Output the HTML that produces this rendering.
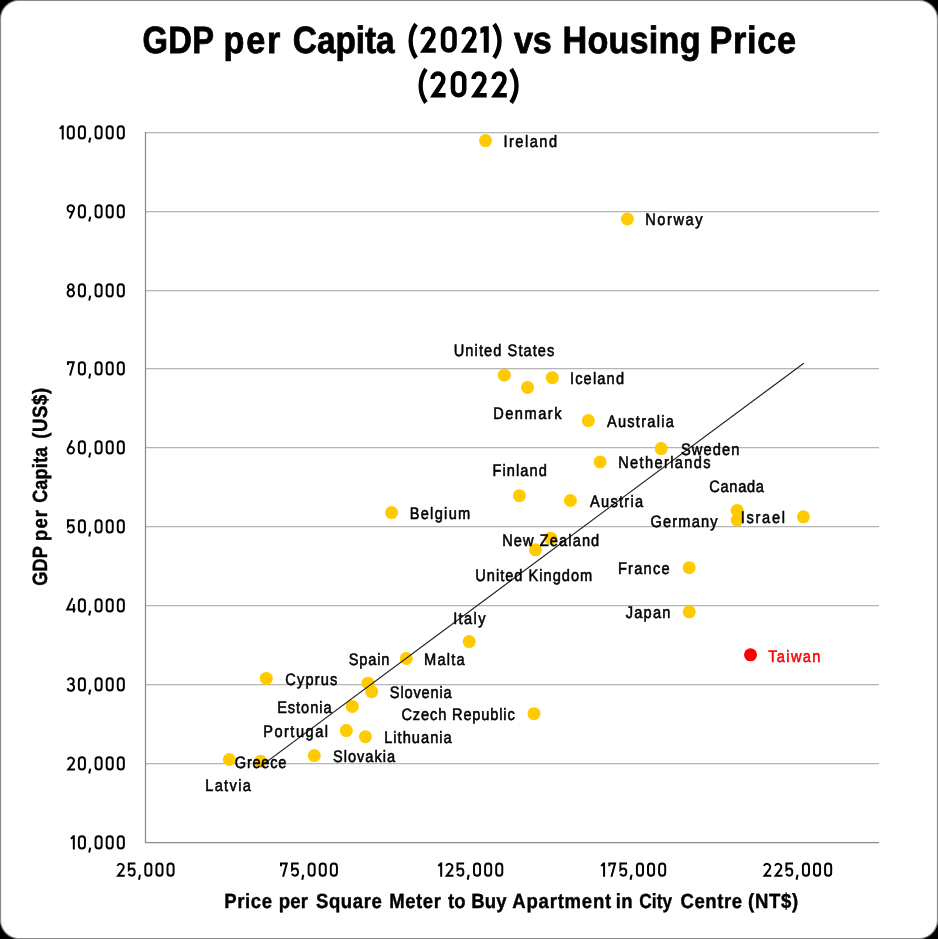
<!DOCTYPE html>
<html><head><meta charset="utf-8"><style>
html,body{margin:0;padding:0;background:#000;}
body{width:938px;height:939px;overflow:hidden;}
svg{display:block;will-change:transform;text-rendering:geometricPrecision;font-family:"Liberation Sans",sans-serif;}
</style></head><body>
<svg width="938" height="939" viewBox="0 0 938 939">
<rect x="0.5" y="0.5" width="937" height="938" rx="18.5" ry="18.5" fill="#fff" stroke="#8a8a8a" stroke-width="1.2"/>
<g stroke="#b4b4b4" stroke-width="1.25"><line x1="145.5" x2="879.0" y1="132.5" y2="132.5"/><line x1="145.5" x2="879.0" y1="211.5" y2="211.5"/><line x1="145.5" x2="879.0" y1="290.5" y2="290.5"/><line x1="145.5" x2="879.0" y1="368.5" y2="368.5"/><line x1="145.5" x2="879.0" y1="447.5" y2="447.5"/><line x1="145.5" x2="879.0" y1="526.5" y2="526.5"/><line x1="145.5" x2="879.0" y1="605.5" y2="605.5"/><line x1="145.5" x2="879.0" y1="684.5" y2="684.5"/><line x1="145.5" x2="879.0" y1="763.5" y2="763.5"/></g>
<path d="M145.5,132 V842.5 H879" fill="none" stroke="#8a8a8a" stroke-width="1.25" stroke-linejoin="miter"/>
<g fill="#ffcb00"><circle cx="485.5" cy="140.6" r="6.5"/><circle cx="627.4" cy="219.0" r="6.5"/><circle cx="504.3" cy="375.2" r="6.5"/><circle cx="527.6" cy="387.4" r="6.5"/><circle cx="552.3" cy="377.7" r="6.5"/><circle cx="588.3" cy="420.6" r="6.5"/><circle cx="661.2" cy="448.6" r="6.5"/><circle cx="600.1" cy="461.9" r="6.5"/><circle cx="737.2" cy="510.4" r="6.5"/><circle cx="737.2" cy="520.1" r="6.5"/><circle cx="803.4" cy="516.8" r="6.5"/><circle cx="519.4" cy="495.7" r="6.5"/><circle cx="570.4" cy="500.5" r="6.5"/><circle cx="391.6" cy="512.6" r="6.5"/><circle cx="550.7" cy="538.2" r="6.5"/><circle cx="535.5" cy="549.8" r="6.5"/><circle cx="689.2" cy="567.7" r="6.5"/><circle cx="689.2" cy="611.8" r="6.5"/><circle cx="469.2" cy="641.6" r="6.5"/><circle cx="406.3" cy="658.5" r="6.5"/><circle cx="266.3" cy="678.4" r="6.5"/><circle cx="368.0" cy="683.2" r="6.5"/><circle cx="371.7" cy="691.7" r="6.5"/><circle cx="352.3" cy="706.4" r="6.5"/><circle cx="534.0" cy="713.7" r="6.5"/><circle cx="346.3" cy="730.6" r="6.5"/><circle cx="365.4" cy="736.7" r="6.5"/><circle cx="314.3" cy="755.6" r="6.5"/><circle cx="229.3" cy="759.5" r="6.5"/><circle cx="260.5" cy="761.3" r="6.5"/></g>
<circle cx="750.5" cy="654.8" r="6.5" fill="#ff0000"/>
<line x1="260.5" y1="766.4" x2="803.8" y2="363.2" stroke="#222" stroke-width="1.1"/>
<g font-family="Liberation Sans, sans-serif">
<text transform="translate(503.43,0) scale(0.88,1)" x="0" y="147.20" font-size="16.6" fill="#000" stroke="#000" stroke-width="0.55" textLength="60.92" lengthAdjust="spacing">Ireland</text>
<text transform="translate(645.13,0) scale(0.88,1)" x="0" y="225.10" font-size="16.6" fill="#000" stroke="#000" stroke-width="0.55" textLength="65.22" lengthAdjust="spacing">Norway</text>
<text transform="translate(453.76,0) scale(0.88,1)" x="0" y="356.30" font-size="16.6" fill="#000" stroke="#000" stroke-width="0.55" textLength="114.34" lengthAdjust="spacing">United States</text>
<text transform="translate(569.93,0) scale(0.88,1)" x="0" y="384.00" font-size="16.6" fill="#000" stroke="#000" stroke-width="0.55" textLength="61.49" lengthAdjust="spacing">Iceland</text>
<text transform="translate(493.13,0) scale(0.88,1)" x="0" y="419.20" font-size="16.6" fill="#000" stroke="#000" stroke-width="0.55" textLength="77.69" lengthAdjust="spacing">Denmark</text>
<text transform="translate(606.88,0) scale(0.88,1)" x="0" y="427.00" font-size="16.6" fill="#000" stroke="#000" stroke-width="0.55" textLength="76.09" lengthAdjust="spacing">Australia</text>
<text transform="translate(681.02,0) scale(0.88,1)" x="0" y="454.90" font-size="16.6" fill="#000" stroke="#000" stroke-width="0.55" textLength="66.28" lengthAdjust="spacing">Sweden</text>
<text transform="translate(618.23,0) scale(0.88,1)" x="0" y="468.00" font-size="16.6" fill="#000" stroke="#000" stroke-width="0.55" textLength="104.83" lengthAdjust="spacing">Netherlands</text>
<text transform="translate(709.29,0) scale(0.88,1)" x="0" y="492.40" font-size="16.6" fill="#000" stroke="#000" stroke-width="0.55" textLength="62.09" lengthAdjust="spacing">Canada</text>
<text transform="translate(589.98,0) scale(0.88,1)" x="0" y="507.00" font-size="16.6" fill="#000" stroke="#000" stroke-width="0.55" textLength="60.41" lengthAdjust="spacing">Austria</text>
<text transform="translate(650.59,0) scale(0.88,1)" x="0" y="527.00" font-size="16.6" fill="#000" stroke="#000" stroke-width="0.55" textLength="76.06" lengthAdjust="spacing">Germany</text>
<text transform="translate(740.73,0) scale(0.88,1)" x="0" y="522.90" font-size="16.6" fill="#000" stroke="#000" stroke-width="0.55" textLength="50.29" lengthAdjust="spacing">Israel</text>
<text transform="translate(492.43,0) scale(0.88,1)" x="0" y="476.30" font-size="16.6" fill="#000" stroke="#000" stroke-width="0.55" textLength="61.83" lengthAdjust="spacing">Finland</text>
<text transform="translate(409.63,0) scale(0.88,1)" x="0" y="519.30" font-size="16.6" fill="#000" stroke="#000" stroke-width="0.55" textLength="68.92" lengthAdjust="spacing">Belgium</text>
<text transform="translate(502.13,0) scale(0.88,1)" x="0" y="545.90" font-size="16.6" fill="#000" stroke="#000" stroke-width="0.55" textLength="110.35" lengthAdjust="spacing">New Zealand</text>
<text transform="translate(475.26,0) scale(0.88,1)" x="0" y="581.10" font-size="16.6" fill="#000" stroke="#000" stroke-width="0.55" textLength="132.86" lengthAdjust="spacing">United Kingdom</text>
<text transform="translate(617.93,0) scale(0.88,1)" x="0" y="574.10" font-size="16.6" fill="#000" stroke="#000" stroke-width="0.55" textLength="58.73" lengthAdjust="spacing">France</text>
<text transform="translate(625.85,0) scale(0.88,1)" x="0" y="617.90" font-size="16.6" fill="#000" stroke="#000" stroke-width="0.55" textLength="50.57" lengthAdjust="spacing">Japan</text>
<text transform="translate(453.13,0) scale(0.88,1)" x="0" y="623.60" font-size="16.6" fill="#000" stroke="#000" stroke-width="0.55" textLength="36.81" lengthAdjust="spacing">Italy</text>
<text transform="translate(348.72,0) scale(0.88,1)" x="0" y="665.10" font-size="16.6" fill="#000" stroke="#000" stroke-width="0.55" textLength="46.17" lengthAdjust="spacing">Spain</text>
<text transform="translate(424.03,0) scale(0.88,1)" x="0" y="665.10" font-size="16.6" fill="#000" stroke="#000" stroke-width="0.55" textLength="46.13" lengthAdjust="spacing">Malta</text>
<text transform="translate(285.29,0) scale(0.88,1)" x="0" y="684.50" font-size="16.6" fill="#000" stroke="#000" stroke-width="0.55" textLength="58.97" lengthAdjust="spacing">Cyprus</text>
<text transform="translate(389.82,0) scale(0.88,1)" x="0" y="698.40" font-size="16.6" fill="#000" stroke="#000" stroke-width="0.55" textLength="70.24" lengthAdjust="spacing">Slovenia</text>
<text transform="translate(277.13,0) scale(0.88,1)" x="0" y="712.80" font-size="16.6" fill="#000" stroke="#000" stroke-width="0.55" textLength="61.93" lengthAdjust="spacing">Estonia</text>
<text transform="translate(401.49,0) scale(0.88,1)" x="0" y="720.40" font-size="16.6" fill="#000" stroke="#000" stroke-width="0.55" textLength="128.71" lengthAdjust="spacing">Czech Republic</text>
<text transform="translate(263.13,0) scale(0.88,1)" x="0" y="737.30" font-size="16.6" fill="#000" stroke="#000" stroke-width="0.55" textLength="73.81" lengthAdjust="spacing">Portugal</text>
<text transform="translate(384.13,0) scale(0.88,1)" x="0" y="743.10" font-size="16.6" fill="#000" stroke="#000" stroke-width="0.55" textLength="76.82" lengthAdjust="spacing">Lithuania</text>
<text transform="translate(332.92,0) scale(0.88,1)" x="0" y="762.30" font-size="16.6" fill="#000" stroke="#000" stroke-width="0.55" textLength="70.70" lengthAdjust="spacing">Slovakia</text>
<text transform="translate(234.79,0) scale(0.88,1)" x="0" y="767.80" font-size="16.6" fill="#000" stroke="#000" stroke-width="0.55" textLength="58.67" lengthAdjust="spacing">Greece</text>
<text transform="translate(205.23,0) scale(0.88,1)" x="0" y="791.30" font-size="16.6" fill="#000" stroke="#000" stroke-width="0.55" textLength="51.82" lengthAdjust="spacing">Latvia</text>
<text transform="translate(768.25,0) scale(0.88,1)" x="0" y="661.70" font-size="16.6" fill="#ff0000" stroke="#ff0000" stroke-width="0.55" textLength="59.20" lengthAdjust="spacing">Taiwan</text>
<text transform="translate(142.48,0) scale(0.86,1)" x="0" y="53.00" font-size="38.0" font-weight="bold" fill="#000" stroke="#000" stroke-width="0.8" textLength="83.35" lengthAdjust="spacing">GDP</text>
<text transform="translate(223.56,0) scale(0.9,1)" x="0" y="53.00" font-size="38.0" font-weight="bold" fill="#000" stroke="#000" stroke-width="0.8" textLength="63.02" lengthAdjust="spacing">per</text>
<text transform="translate(292.85,0) scale(0.88,1)" x="0" y="53.00" font-size="38.0" font-weight="bold" fill="#000" stroke="#000" stroke-width="0.8" textLength="115.61" lengthAdjust="spacing">Capita</text>
<text transform="translate(514.10,0) scale(0.9,1)" x="0" y="53.00" font-size="38.0" font-weight="bold" fill="#000" stroke="#000" stroke-width="0.8" textLength="41.98" lengthAdjust="spacing">vs</text>
<text transform="translate(562.46,0) scale(0.9,1)" x="0" y="53.00" font-size="38.0" font-weight="bold" fill="#000" stroke="#000" stroke-width="0.8" textLength="153.47" lengthAdjust="spacing">Housing</text>
<text transform="translate(709.56,0) scale(0.9,1)" x="0" y="53.00" font-size="38.0" font-weight="bold" fill="#000" stroke="#000" stroke-width="0.8" textLength="96.10" lengthAdjust="spacing">Price</text>
<text transform="translate(224.34,0) scale(0.9,1)" x="0" y="907.90" font-size="20.6" font-weight="bold" fill="#000" stroke="#000" stroke-width="0.4" textLength="53.02" lengthAdjust="spacing">Price</text>
<text transform="translate(278.74,0) scale(0.9,1)" x="0" y="907.90" font-size="20.6" font-weight="bold" fill="#000" stroke="#000" stroke-width="0.4" textLength="32.36" lengthAdjust="spacing">per</text>
<text transform="translate(315.91,0) scale(0.9,1)" x="0" y="907.90" font-size="20.6" font-weight="bold" fill="#000" stroke="#000" stroke-width="0.4" textLength="73.28" lengthAdjust="spacing">Square</text>
<text transform="translate(389.24,0) scale(0.9,1)" x="0" y="907.90" font-size="20.6" font-weight="bold" fill="#000" stroke="#000" stroke-width="0.4" textLength="57.36" lengthAdjust="spacing">Meter</text>
<text transform="translate(448.00,0) scale(0.9,1)" x="0" y="907.90" font-size="20.6" font-weight="bold" fill="#000" stroke="#000" stroke-width="0.4" textLength="19.67" lengthAdjust="spacing">to</text>
<text transform="translate(471.14,0) scale(0.9,1)" x="0" y="907.90" font-size="20.6" font-weight="bold" fill="#000" stroke="#000" stroke-width="0.4" textLength="39.38" lengthAdjust="spacing">Buy</text>
<text transform="translate(512.31,0) scale(0.9,1)" x="0" y="907.90" font-size="20.6" font-weight="bold" fill="#000" stroke="#000" stroke-width="0.4" textLength="109.87" lengthAdjust="spacing">Apartment</text>
<text transform="translate(615.84,0) scale(0.9,1)" x="0" y="907.90" font-size="20.6" font-weight="bold" fill="#000" stroke="#000" stroke-width="0.4" textLength="18.51" lengthAdjust="spacing">in</text>
<text transform="translate(639.36,0) scale(0.84,1)" x="0" y="907.90" font-size="20.6" font-weight="bold" fill="#000" stroke="#000" stroke-width="0.4" textLength="38.97" lengthAdjust="spacing">City</text>
<text transform="translate(680.42,0) scale(0.9,1)" x="0" y="907.90" font-size="20.6" font-weight="bold" fill="#000" stroke="#000" stroke-width="0.4" textLength="68.60" lengthAdjust="spacing">Centre</text>
<text transform="translate(748.03,0) scale(0.9,1)" x="0" y="907.90" font-size="20.6" font-weight="bold" fill="#000" stroke="#000" stroke-width="0.4" textLength="55.71" lengthAdjust="spacing">(NT$)</text>
<text transform="translate(47.2,0) rotate(-90) translate(-585.67,0) scale(0.88,1)" x="0" y="0" font-size="20.6" font-weight="bold" stroke="#000" stroke-width="0.4" textLength="44.94" lengthAdjust="spacing">GDP</text>
<text transform="translate(47.2,0) rotate(-90) translate(-540.96,0) scale(0.9,1)" x="0" y="0" font-size="20.6" font-weight="bold" stroke="#000" stroke-width="0.4" textLength="34.47" lengthAdjust="spacing">per</text>
<text transform="translate(47.2,0) rotate(-90) translate(-502.87,0) scale(0.88,1)" x="0" y="0" font-size="20.6" font-weight="bold" stroke="#000" stroke-width="0.4" textLength="63.69" lengthAdjust="spacing">Capita</text>
<text transform="translate(47.2,0) rotate(-90) translate(-438.77,0) scale(0.9,1)" x="0" y="0" font-size="20.6" font-weight="bold" stroke="#000" stroke-width="0.4" textLength="56.60" lengthAdjust="spacing">(US$)</text>
</g>
<g><path transform="translate(408.50,52.80) scale(0.939,1)" d="M8.0,-28.6 C3.2,-22.0 2.3,-16.0 2.3,-11.75 C2.3,-7.5 3.2,-1.5 8.0,5.1" fill="none" stroke="#000" stroke-width="4.6"/><path transform="translate(420.30,52.80) scale(0.987,1)" d="M2.3,-18.6 A5.5,5.5 0 0 1 13.3,-18.6 C13.3,-16.2 12.4,-14.5 10.9,-12.7 L3.9,-2.3 H15.6" fill="none" stroke="#000" stroke-width="4.6"/><path transform="translate(440.80,52.80) scale(0.994,1)" d="M2.3,-18.55 A5.75,5.75 0 0 1 13.8,-18.55 V-8.05 A5.75,5.75 0 0 1 2.3,-8.05 Z" fill="none" stroke="#000" stroke-width="4.6"/><path transform="translate(461.30,52.80) scale(0.987,1)" d="M2.3,-18.6 A5.5,5.5 0 0 1 13.3,-18.6 C13.3,-16.2 12.4,-14.5 10.9,-12.7 L3.9,-2.3 H15.6" fill="none" stroke="#000" stroke-width="4.6"/><path transform="translate(480.40,52.80) scale(0.933,1)" d="M3.6,-26.6 H9.0 V0 H3.6 V-20.6 L0,-19.2 V-24.9 Z" fill="#000"/><path transform="translate(492.30,52.80) scale(0.949,1)" d="M1.9,-28.6 C6.7,-22.0 7.6,-16.0 7.6,-11.75 C7.6,-7.5 6.7,-1.5 1.9,5.1" fill="none" stroke="#000" stroke-width="4.6"/><path transform="translate(418.50,97.60) scale(0.929,1)" d="M8.0,-28.6 C3.2,-22.0 2.3,-16.0 2.3,-11.75 C2.3,-7.5 3.2,-1.5 8.0,5.1" fill="none" stroke="#000" stroke-width="4.6"/><path transform="translate(430.30,97.60) scale(0.981,1)" d="M2.3,-18.6 A5.5,5.5 0 0 1 13.3,-18.6 C13.3,-16.2 12.4,-14.5 10.9,-12.7 L3.9,-2.3 H15.6" fill="none" stroke="#000" stroke-width="4.6"/><path transform="translate(450.70,97.60) scale(0.981,1)" d="M2.3,-18.55 A5.75,5.75 0 0 1 13.8,-18.55 V-8.05 A5.75,5.75 0 0 1 2.3,-8.05 Z" fill="none" stroke="#000" stroke-width="4.6"/><path transform="translate(471.30,97.60) scale(0.987,1)" d="M2.3,-18.6 A5.5,5.5 0 0 1 13.3,-18.6 C13.3,-16.2 12.4,-14.5 10.9,-12.7 L3.9,-2.3 H15.6" fill="none" stroke="#000" stroke-width="4.6"/><path transform="translate(491.40,97.60) scale(0.987,1)" d="M2.3,-18.6 A5.5,5.5 0 0 1 13.3,-18.6 C13.3,-16.2 12.4,-14.5 10.9,-12.7 L3.9,-2.3 H15.6" fill="none" stroke="#000" stroke-width="4.6"/><path transform="translate(509.30,97.60) scale(0.949,1)" d="M1.9,-28.6 C6.7,-22.0 7.6,-16.0 7.6,-11.75 C7.6,-7.5 6.7,-1.5 1.9,5.1" fill="none" stroke="#000" stroke-width="4.6"/><path transform="translate(70.35,849.50) scale(1.023,1)" d="M3.4,-14.3 V0 M3.1,-13.4 L0.6,-10.6" fill="none" stroke="#000" stroke-width="1.95"/><path transform="translate(77.85,849.50) scale(1.000,1)" d="M1,-10.25 A3.05,3.05 0 0 1 7.1,-10.25 V-4.05 A3.05,3.05 0 0 1 1,-4.05 Z" fill="none" stroke="#000" stroke-width="1.95"/><path transform="translate(88.20,849.50) scale(1.000,1)" d="M2.05,-1.9 L1.0,3.0" fill="none" stroke="#000" stroke-width="1.95"/><path transform="translate(94.55,849.50) scale(1.000,1)" d="M1,-10.25 A3.05,3.05 0 0 1 7.1,-10.25 V-4.05 A3.05,3.05 0 0 1 1,-4.05 Z" fill="none" stroke="#000" stroke-width="1.95"/><path transform="translate(105.65,849.50) scale(1.000,1)" d="M1,-10.25 A3.05,3.05 0 0 1 7.1,-10.25 V-4.05 A3.05,3.05 0 0 1 1,-4.05 Z" fill="none" stroke="#000" stroke-width="1.95"/><path transform="translate(116.75,849.50) scale(1.000,1)" d="M1,-10.25 A3.05,3.05 0 0 1 7.1,-10.25 V-4.05 A3.05,3.05 0 0 1 1,-4.05 Z" fill="none" stroke="#000" stroke-width="1.95"/><path transform="translate(66.55,770.50) scale(1.000,1)" d="M1.15,-10.9 A3.3,3.3 0 0 1 7.45,-10.0 C7.45,-8.7 6.9,-7.7 6.0,-6.6 L1.7,-1.0 H8.5" fill="none" stroke="#000" stroke-width="1.95"/><path transform="translate(77.85,770.50) scale(1.000,1)" d="M1,-10.25 A3.05,3.05 0 0 1 7.1,-10.25 V-4.05 A3.05,3.05 0 0 1 1,-4.05 Z" fill="none" stroke="#000" stroke-width="1.95"/><path transform="translate(88.20,770.50) scale(1.000,1)" d="M2.05,-1.9 L1.0,3.0" fill="none" stroke="#000" stroke-width="1.95"/><path transform="translate(94.55,770.50) scale(1.000,1)" d="M1,-10.25 A3.05,3.05 0 0 1 7.1,-10.25 V-4.05 A3.05,3.05 0 0 1 1,-4.05 Z" fill="none" stroke="#000" stroke-width="1.95"/><path transform="translate(105.65,770.50) scale(1.000,1)" d="M1,-10.25 A3.05,3.05 0 0 1 7.1,-10.25 V-4.05 A3.05,3.05 0 0 1 1,-4.05 Z" fill="none" stroke="#000" stroke-width="1.95"/><path transform="translate(116.75,770.50) scale(1.000,1)" d="M1,-10.25 A3.05,3.05 0 0 1 7.1,-10.25 V-4.05 A3.05,3.05 0 0 1 1,-4.05 Z" fill="none" stroke="#000" stroke-width="1.95"/><path transform="translate(66.55,691.50) scale(1.000,1)" d="M1.1,-11.2 A3.15,3.1 0 0 1 7.2,-10.2 A3.0,3.0 0 0 1 4.2,-7.4 H3.2 M4.2,-7.4 A3.25,3.2 0 0 1 7.5,-4.2 A3.3,3.25 0 0 1 1.0,-3.2" fill="none" stroke="#000" stroke-width="1.95"/><path transform="translate(77.85,691.50) scale(1.000,1)" d="M1,-10.25 A3.05,3.05 0 0 1 7.1,-10.25 V-4.05 A3.05,3.05 0 0 1 1,-4.05 Z" fill="none" stroke="#000" stroke-width="1.95"/><path transform="translate(88.20,691.50) scale(1.000,1)" d="M2.05,-1.9 L1.0,3.0" fill="none" stroke="#000" stroke-width="1.95"/><path transform="translate(94.55,691.50) scale(1.000,1)" d="M1,-10.25 A3.05,3.05 0 0 1 7.1,-10.25 V-4.05 A3.05,3.05 0 0 1 1,-4.05 Z" fill="none" stroke="#000" stroke-width="1.95"/><path transform="translate(105.65,691.50) scale(1.000,1)" d="M1,-10.25 A3.05,3.05 0 0 1 7.1,-10.25 V-4.05 A3.05,3.05 0 0 1 1,-4.05 Z" fill="none" stroke="#000" stroke-width="1.95"/><path transform="translate(116.75,691.50) scale(1.000,1)" d="M1,-10.25 A3.05,3.05 0 0 1 7.1,-10.25 V-4.05 A3.05,3.05 0 0 1 1,-4.05 Z" fill="none" stroke="#000" stroke-width="1.95"/><path transform="translate(66.15,612.50) scale(1.000,1)" d="M6.4,-14.3 L1.0,-3.0 H9.3 M7.7,-8.6 V0" fill="none" stroke="#000" stroke-width="1.95"/><path transform="translate(77.85,612.50) scale(1.000,1)" d="M1,-10.25 A3.05,3.05 0 0 1 7.1,-10.25 V-4.05 A3.05,3.05 0 0 1 1,-4.05 Z" fill="none" stroke="#000" stroke-width="1.95"/><path transform="translate(88.20,612.50) scale(1.000,1)" d="M2.05,-1.9 L1.0,3.0" fill="none" stroke="#000" stroke-width="1.95"/><path transform="translate(94.55,612.50) scale(1.000,1)" d="M1,-10.25 A3.05,3.05 0 0 1 7.1,-10.25 V-4.05 A3.05,3.05 0 0 1 1,-4.05 Z" fill="none" stroke="#000" stroke-width="1.95"/><path transform="translate(105.65,612.50) scale(1.000,1)" d="M1,-10.25 A3.05,3.05 0 0 1 7.1,-10.25 V-4.05 A3.05,3.05 0 0 1 1,-4.05 Z" fill="none" stroke="#000" stroke-width="1.95"/><path transform="translate(116.75,612.50) scale(1.000,1)" d="M1,-10.25 A3.05,3.05 0 0 1 7.1,-10.25 V-4.05 A3.05,3.05 0 0 1 1,-4.05 Z" fill="none" stroke="#000" stroke-width="1.95"/><path transform="translate(66.85,533.50) scale(1.000,1)" d="M7.7,-13.3 H1.1 V-6.9 C1.9,-7.8 3.0,-8.3 4.3,-8.3 C6.3,-8.3 7.0,-6.6 7.0,-4.65 C7.0,-2.5 5.9,-1.0 4.0,-1.0 C2.6,-1.0 1.5,-1.7 0.9,-2.9" fill="none" stroke="#000" stroke-width="1.95"/><path transform="translate(77.85,533.50) scale(1.000,1)" d="M1,-10.25 A3.05,3.05 0 0 1 7.1,-10.25 V-4.05 A3.05,3.05 0 0 1 1,-4.05 Z" fill="none" stroke="#000" stroke-width="1.95"/><path transform="translate(88.20,533.50) scale(1.000,1)" d="M2.05,-1.9 L1.0,3.0" fill="none" stroke="#000" stroke-width="1.95"/><path transform="translate(94.55,533.50) scale(1.000,1)" d="M1,-10.25 A3.05,3.05 0 0 1 7.1,-10.25 V-4.05 A3.05,3.05 0 0 1 1,-4.05 Z" fill="none" stroke="#000" stroke-width="1.95"/><path transform="translate(105.65,533.50) scale(1.000,1)" d="M1,-10.25 A3.05,3.05 0 0 1 7.1,-10.25 V-4.05 A3.05,3.05 0 0 1 1,-4.05 Z" fill="none" stroke="#000" stroke-width="1.95"/><path transform="translate(116.75,533.50) scale(1.000,1)" d="M1,-10.25 A3.05,3.05 0 0 1 7.1,-10.25 V-4.05 A3.05,3.05 0 0 1 1,-4.05 Z" fill="none" stroke="#000" stroke-width="1.95"/><path transform="translate(66.55,454.50) scale(1.000,1)" d="M5.6,-14.3 L1.3,-5.6 M4.25,-7.65 A3.25,3.35 0 1 1 4.24,-7.65 Z" fill="none" stroke="#000" stroke-width="1.95"/><path transform="translate(77.85,454.50) scale(1.000,1)" d="M1,-10.25 A3.05,3.05 0 0 1 7.1,-10.25 V-4.05 A3.05,3.05 0 0 1 1,-4.05 Z" fill="none" stroke="#000" stroke-width="1.95"/><path transform="translate(88.20,454.50) scale(1.000,1)" d="M2.05,-1.9 L1.0,3.0" fill="none" stroke="#000" stroke-width="1.95"/><path transform="translate(94.55,454.50) scale(1.000,1)" d="M1,-10.25 A3.05,3.05 0 0 1 7.1,-10.25 V-4.05 A3.05,3.05 0 0 1 1,-4.05 Z" fill="none" stroke="#000" stroke-width="1.95"/><path transform="translate(105.65,454.50) scale(1.000,1)" d="M1,-10.25 A3.05,3.05 0 0 1 7.1,-10.25 V-4.05 A3.05,3.05 0 0 1 1,-4.05 Z" fill="none" stroke="#000" stroke-width="1.95"/><path transform="translate(116.75,454.50) scale(1.000,1)" d="M1,-10.25 A3.05,3.05 0 0 1 7.1,-10.25 V-4.05 A3.05,3.05 0 0 1 1,-4.05 Z" fill="none" stroke="#000" stroke-width="1.95"/><path transform="translate(66.95,375.50) scale(1.000,1)" d="M1.0,-10.5 V-13.3 H6.75 L3.1,0" fill="none" stroke="#000" stroke-width="1.95"/><path transform="translate(77.85,375.50) scale(1.000,1)" d="M1,-10.25 A3.05,3.05 0 0 1 7.1,-10.25 V-4.05 A3.05,3.05 0 0 1 1,-4.05 Z" fill="none" stroke="#000" stroke-width="1.95"/><path transform="translate(88.20,375.50) scale(1.000,1)" d="M2.05,-1.9 L1.0,3.0" fill="none" stroke="#000" stroke-width="1.95"/><path transform="translate(94.55,375.50) scale(1.000,1)" d="M1,-10.25 A3.05,3.05 0 0 1 7.1,-10.25 V-4.05 A3.05,3.05 0 0 1 1,-4.05 Z" fill="none" stroke="#000" stroke-width="1.95"/><path transform="translate(105.65,375.50) scale(1.000,1)" d="M1,-10.25 A3.05,3.05 0 0 1 7.1,-10.25 V-4.05 A3.05,3.05 0 0 1 1,-4.05 Z" fill="none" stroke="#000" stroke-width="1.95"/><path transform="translate(116.75,375.50) scale(1.000,1)" d="M1,-10.25 A3.05,3.05 0 0 1 7.1,-10.25 V-4.05 A3.05,3.05 0 0 1 1,-4.05 Z" fill="none" stroke="#000" stroke-width="1.95"/><path transform="translate(66.50,297.50) scale(1.000,1)" d="M4.3,-13.35 A2.85,2.75 0 1 1 4.29,-13.35 Z M4.3,-7.8 A3.3,3.4 0 1 1 4.29,-7.8 Z" fill="none" stroke="#000" stroke-width="1.95"/><path transform="translate(77.85,297.50) scale(1.000,1)" d="M1,-10.25 A3.05,3.05 0 0 1 7.1,-10.25 V-4.05 A3.05,3.05 0 0 1 1,-4.05 Z" fill="none" stroke="#000" stroke-width="1.95"/><path transform="translate(88.20,297.50) scale(1.000,1)" d="M2.05,-1.9 L1.0,3.0" fill="none" stroke="#000" stroke-width="1.95"/><path transform="translate(94.55,297.50) scale(1.000,1)" d="M1,-10.25 A3.05,3.05 0 0 1 7.1,-10.25 V-4.05 A3.05,3.05 0 0 1 1,-4.05 Z" fill="none" stroke="#000" stroke-width="1.95"/><path transform="translate(105.65,297.50) scale(1.000,1)" d="M1,-10.25 A3.05,3.05 0 0 1 7.1,-10.25 V-4.05 A3.05,3.05 0 0 1 1,-4.05 Z" fill="none" stroke="#000" stroke-width="1.95"/><path transform="translate(116.75,297.50) scale(1.000,1)" d="M1,-10.25 A3.05,3.05 0 0 1 7.1,-10.25 V-4.05 A3.05,3.05 0 0 1 1,-4.05 Z" fill="none" stroke="#000" stroke-width="1.95"/><path transform="translate(66.50,218.50) scale(1.000,1)" d="M4.3,-13.35 A3.35,3.35 0 1 1 4.29,-13.35 Z M7.2,-8.4 L3.1,0" fill="none" stroke="#000" stroke-width="1.95"/><path transform="translate(77.85,218.50) scale(1.000,1)" d="M1,-10.25 A3.05,3.05 0 0 1 7.1,-10.25 V-4.05 A3.05,3.05 0 0 1 1,-4.05 Z" fill="none" stroke="#000" stroke-width="1.95"/><path transform="translate(88.20,218.50) scale(1.000,1)" d="M2.05,-1.9 L1.0,3.0" fill="none" stroke="#000" stroke-width="1.95"/><path transform="translate(94.55,218.50) scale(1.000,1)" d="M1,-10.25 A3.05,3.05 0 0 1 7.1,-10.25 V-4.05 A3.05,3.05 0 0 1 1,-4.05 Z" fill="none" stroke="#000" stroke-width="1.95"/><path transform="translate(105.65,218.50) scale(1.000,1)" d="M1,-10.25 A3.05,3.05 0 0 1 7.1,-10.25 V-4.05 A3.05,3.05 0 0 1 1,-4.05 Z" fill="none" stroke="#000" stroke-width="1.95"/><path transform="translate(116.75,218.50) scale(1.000,1)" d="M1,-10.25 A3.05,3.05 0 0 1 7.1,-10.25 V-4.05 A3.05,3.05 0 0 1 1,-4.05 Z" fill="none" stroke="#000" stroke-width="1.95"/><path transform="translate(59.25,139.50) scale(1.023,1)" d="M3.4,-14.3 V0 M3.1,-13.4 L0.6,-10.6" fill="none" stroke="#000" stroke-width="1.95"/><path transform="translate(66.75,139.50) scale(1.000,1)" d="M1,-10.25 A3.05,3.05 0 0 1 7.1,-10.25 V-4.05 A3.05,3.05 0 0 1 1,-4.05 Z" fill="none" stroke="#000" stroke-width="1.95"/><path transform="translate(77.85,139.50) scale(1.000,1)" d="M1,-10.25 A3.05,3.05 0 0 1 7.1,-10.25 V-4.05 A3.05,3.05 0 0 1 1,-4.05 Z" fill="none" stroke="#000" stroke-width="1.95"/><path transform="translate(88.20,139.50) scale(1.000,1)" d="M2.05,-1.9 L1.0,3.0" fill="none" stroke="#000" stroke-width="1.95"/><path transform="translate(94.55,139.50) scale(1.000,1)" d="M1,-10.25 A3.05,3.05 0 0 1 7.1,-10.25 V-4.05 A3.05,3.05 0 0 1 1,-4.05 Z" fill="none" stroke="#000" stroke-width="1.95"/><path transform="translate(105.65,139.50) scale(1.000,1)" d="M1,-10.25 A3.05,3.05 0 0 1 7.1,-10.25 V-4.05 A3.05,3.05 0 0 1 1,-4.05 Z" fill="none" stroke="#000" stroke-width="1.95"/><path transform="translate(116.75,139.50) scale(1.000,1)" d="M1,-10.25 A3.05,3.05 0 0 1 7.1,-10.25 V-4.05 A3.05,3.05 0 0 1 1,-4.05 Z" fill="none" stroke="#000" stroke-width="1.95"/><path transform="translate(116.30,876.70) scale(1.000,1)" d="M1.15,-10.9 A3.3,3.3 0 0 1 7.45,-10.0 C7.45,-8.7 6.9,-7.7 6.0,-6.6 L1.7,-1.0 H8.5" fill="none" stroke="#000" stroke-width="1.95"/><path transform="translate(127.70,876.70) scale(1.000,1)" d="M7.7,-13.3 H1.1 V-6.9 C1.9,-7.8 3.0,-8.3 4.3,-8.3 C6.3,-8.3 7.0,-6.6 7.0,-4.65 C7.0,-2.5 5.9,-1.0 4.0,-1.0 C2.6,-1.0 1.5,-1.7 0.9,-2.9" fill="none" stroke="#000" stroke-width="1.95"/><path transform="translate(137.95,876.70) scale(1.000,1)" d="M2.05,-1.9 L1.0,3.0" fill="none" stroke="#000" stroke-width="1.95"/><path transform="translate(144.30,876.70) scale(1.000,1)" d="M1,-10.25 A3.05,3.05 0 0 1 7.1,-10.25 V-4.05 A3.05,3.05 0 0 1 1,-4.05 Z" fill="none" stroke="#000" stroke-width="1.95"/><path transform="translate(155.40,876.70) scale(1.000,1)" d="M1,-10.25 A3.05,3.05 0 0 1 7.1,-10.25 V-4.05 A3.05,3.05 0 0 1 1,-4.05 Z" fill="none" stroke="#000" stroke-width="1.95"/><path transform="translate(166.50,876.70) scale(1.000,1)" d="M1,-10.25 A3.05,3.05 0 0 1 7.1,-10.25 V-4.05 A3.05,3.05 0 0 1 1,-4.05 Z" fill="none" stroke="#000" stroke-width="1.95"/><path transform="translate(280.00,876.70) scale(1.000,1)" d="M1.0,-10.5 V-13.3 H6.75 L3.1,0" fill="none" stroke="#000" stroke-width="1.95"/><path transform="translate(291.00,876.70) scale(1.000,1)" d="M7.7,-13.3 H1.1 V-6.9 C1.9,-7.8 3.0,-8.3 4.3,-8.3 C6.3,-8.3 7.0,-6.6 7.0,-4.65 C7.0,-2.5 5.9,-1.0 4.0,-1.0 C2.6,-1.0 1.5,-1.7 0.9,-2.9" fill="none" stroke="#000" stroke-width="1.95"/><path transform="translate(301.25,876.70) scale(1.000,1)" d="M2.05,-1.9 L1.0,3.0" fill="none" stroke="#000" stroke-width="1.95"/><path transform="translate(307.60,876.70) scale(1.000,1)" d="M1,-10.25 A3.05,3.05 0 0 1 7.1,-10.25 V-4.05 A3.05,3.05 0 0 1 1,-4.05 Z" fill="none" stroke="#000" stroke-width="1.95"/><path transform="translate(318.70,876.70) scale(1.000,1)" d="M1,-10.25 A3.05,3.05 0 0 1 7.1,-10.25 V-4.05 A3.05,3.05 0 0 1 1,-4.05 Z" fill="none" stroke="#000" stroke-width="1.95"/><path transform="translate(329.80,876.70) scale(1.000,1)" d="M1,-10.25 A3.05,3.05 0 0 1 7.1,-10.25 V-4.05 A3.05,3.05 0 0 1 1,-4.05 Z" fill="none" stroke="#000" stroke-width="1.95"/><path transform="translate(437.70,876.70) scale(1.023,1)" d="M3.4,-14.3 V0 M3.1,-13.4 L0.6,-10.6" fill="none" stroke="#000" stroke-width="1.95"/><path transform="translate(445.00,876.70) scale(1.000,1)" d="M1.15,-10.9 A3.3,3.3 0 0 1 7.45,-10.0 C7.45,-8.7 6.9,-7.7 6.0,-6.6 L1.7,-1.0 H8.5" fill="none" stroke="#000" stroke-width="1.95"/><path transform="translate(456.40,876.70) scale(1.000,1)" d="M7.7,-13.3 H1.1 V-6.9 C1.9,-7.8 3.0,-8.3 4.3,-8.3 C6.3,-8.3 7.0,-6.6 7.0,-4.65 C7.0,-2.5 5.9,-1.0 4.0,-1.0 C2.6,-1.0 1.5,-1.7 0.9,-2.9" fill="none" stroke="#000" stroke-width="1.95"/><path transform="translate(466.65,876.70) scale(1.000,1)" d="M2.05,-1.9 L1.0,3.0" fill="none" stroke="#000" stroke-width="1.95"/><path transform="translate(473.00,876.70) scale(1.000,1)" d="M1,-10.25 A3.05,3.05 0 0 1 7.1,-10.25 V-4.05 A3.05,3.05 0 0 1 1,-4.05 Z" fill="none" stroke="#000" stroke-width="1.95"/><path transform="translate(484.10,876.70) scale(1.000,1)" d="M1,-10.25 A3.05,3.05 0 0 1 7.1,-10.25 V-4.05 A3.05,3.05 0 0 1 1,-4.05 Z" fill="none" stroke="#000" stroke-width="1.95"/><path transform="translate(495.20,876.70) scale(1.000,1)" d="M1,-10.25 A3.05,3.05 0 0 1 7.1,-10.25 V-4.05 A3.05,3.05 0 0 1 1,-4.05 Z" fill="none" stroke="#000" stroke-width="1.95"/><path transform="translate(600.60,876.70) scale(1.023,1)" d="M3.4,-14.3 V0 M3.1,-13.4 L0.6,-10.6" fill="none" stroke="#000" stroke-width="1.95"/><path transform="translate(608.30,876.70) scale(1.000,1)" d="M1.0,-10.5 V-13.3 H6.75 L3.1,0" fill="none" stroke="#000" stroke-width="1.95"/><path transform="translate(619.30,876.70) scale(1.000,1)" d="M7.7,-13.3 H1.1 V-6.9 C1.9,-7.8 3.0,-8.3 4.3,-8.3 C6.3,-8.3 7.0,-6.6 7.0,-4.65 C7.0,-2.5 5.9,-1.0 4.0,-1.0 C2.6,-1.0 1.5,-1.7 0.9,-2.9" fill="none" stroke="#000" stroke-width="1.95"/><path transform="translate(629.55,876.70) scale(1.000,1)" d="M2.05,-1.9 L1.0,3.0" fill="none" stroke="#000" stroke-width="1.95"/><path transform="translate(635.90,876.70) scale(1.000,1)" d="M1,-10.25 A3.05,3.05 0 0 1 7.1,-10.25 V-4.05 A3.05,3.05 0 0 1 1,-4.05 Z" fill="none" stroke="#000" stroke-width="1.95"/><path transform="translate(647.00,876.70) scale(1.000,1)" d="M1,-10.25 A3.05,3.05 0 0 1 7.1,-10.25 V-4.05 A3.05,3.05 0 0 1 1,-4.05 Z" fill="none" stroke="#000" stroke-width="1.95"/><path transform="translate(658.10,876.70) scale(1.000,1)" d="M1,-10.25 A3.05,3.05 0 0 1 7.1,-10.25 V-4.05 A3.05,3.05 0 0 1 1,-4.05 Z" fill="none" stroke="#000" stroke-width="1.95"/><path transform="translate(762.80,876.70) scale(1.000,1)" d="M1.15,-10.9 A3.3,3.3 0 0 1 7.45,-10.0 C7.45,-8.7 6.9,-7.7 6.0,-6.6 L1.7,-1.0 H8.5" fill="none" stroke="#000" stroke-width="1.95"/><path transform="translate(773.90,876.70) scale(1.000,1)" d="M1.15,-10.9 A3.3,3.3 0 0 1 7.45,-10.0 C7.45,-8.7 6.9,-7.7 6.0,-6.6 L1.7,-1.0 H8.5" fill="none" stroke="#000" stroke-width="1.95"/><path transform="translate(785.30,876.70) scale(1.000,1)" d="M7.7,-13.3 H1.1 V-6.9 C1.9,-7.8 3.0,-8.3 4.3,-8.3 C6.3,-8.3 7.0,-6.6 7.0,-4.65 C7.0,-2.5 5.9,-1.0 4.0,-1.0 C2.6,-1.0 1.5,-1.7 0.9,-2.9" fill="none" stroke="#000" stroke-width="1.95"/><path transform="translate(795.55,876.70) scale(1.000,1)" d="M2.05,-1.9 L1.0,3.0" fill="none" stroke="#000" stroke-width="1.95"/><path transform="translate(801.90,876.70) scale(1.000,1)" d="M1,-10.25 A3.05,3.05 0 0 1 7.1,-10.25 V-4.05 A3.05,3.05 0 0 1 1,-4.05 Z" fill="none" stroke="#000" stroke-width="1.95"/><path transform="translate(813.00,876.70) scale(1.000,1)" d="M1,-10.25 A3.05,3.05 0 0 1 7.1,-10.25 V-4.05 A3.05,3.05 0 0 1 1,-4.05 Z" fill="none" stroke="#000" stroke-width="1.95"/><path transform="translate(824.10,876.70) scale(1.000,1)" d="M1,-10.25 A3.05,3.05 0 0 1 7.1,-10.25 V-4.05 A3.05,3.05 0 0 1 1,-4.05 Z" fill="none" stroke="#000" stroke-width="1.95"/></g>
</svg>
</body></html>
